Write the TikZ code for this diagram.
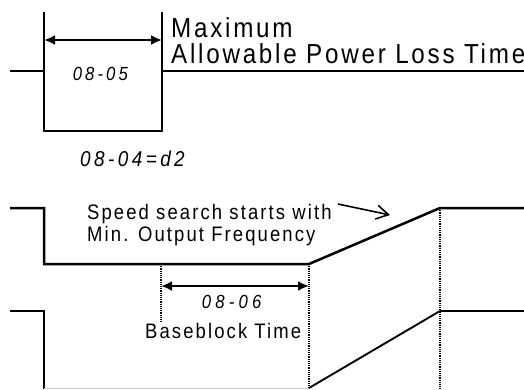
\documentclass[tikz,border=0pt]{standalone}
\usepackage{fontspec}
\setmainfont{Liberation Sans}
\newfontfamily\narrowfont{Liberation Sans}[FakeStretch=0.88, LetterSpace=10]
\newfontfamily\midnarrowfont{Liberation Sans}[FakeStretch=0.88, LetterSpace=16]
\newfontfamily\widenarrowfont{Liberation Sans}[FakeStretch=0.88, LetterSpace=22]
\usetikzlibrary{arrows.meta, positioning}

\begin{document}
\begin{tikzpicture}[
    x=1pt, y=-1pt,
    wave/.style={line width=2.5pt, line join=miter},
    thin wave/.style={line width=1.3pt},
    guide/.style={densely dotted, line width=1.2pt},
    dim/.style={{Latex[length=11pt,width=10pt]}-{Latex[length=11pt,width=10pt]}, line width=2.6pt},
    pointer/.style={-{Straight Barb[length=12pt,width=14pt]}, line width=1.6pt},
    lbl/.style={inner sep=0pt, anchor=base west, font=\narrowfont\fontsize{21}{22}\selectfont},
    big/.style={lbl, font=\narrowfont\fontsize{27.5}{28}\selectfont},
    num/.style={inner sep=0pt, anchor=base west, font=\midnarrowfont\itshape\fontsize{19}{20}\selectfont},
]
\useasboundingbox (0,0) rectangle (524,389);

% Power loss pulse
\coordinate (p0) at (10,71);
\coordinate (p1) at (44,71);
\coordinate (p1t) at (44,12);
\coordinate (p1b) at (44,131);
\coordinate (p2b) at (162,131);
\coordinate (p2t) at (162,12);
\coordinate (p2) at (162,71);
\coordinate (p3) at (524,71);
\draw[thin wave] (p0) -- (p1);
\draw[wave] (p1t) -- (p1b) -- (p2b) -- (p2t);
\draw[wave] (p2) -- (p3);
\coordinate (d1) at (44,40);
\coordinate (d2) at (162,40);
\draw[dim] (d1) -- (d2);

% Output frequency
\coordinate (f0) at (10,208);
\coordinate (f1) at (44,208);
\coordinate (f2) at (44,264);
\coordinate (f3) at (309,264);
\coordinate (f4) at (440,208);
\coordinate (f5) at (524,208);
\draw[wave] (f0) -- (f1) -- (f2) -- (f3) -- (f4) -- (f5);

% Output voltage
\coordinate (v0) at (10,311);
\coordinate (v1) at (44,311);
\coordinate (v2) at (44,389);
\coordinate (v3) at (44,388);
\coordinate (v4) at (309,388);
\coordinate (v5) at (440,311);
\coordinate (v6) at (524,311);
\draw[wave] (v0) -- (v1) -- (v2);
\draw[gray!40, line width=0.8pt] (v3) -- (v4);
\draw[line width=1.9pt] (v4) -- (v5);
\draw[wave] (v5) -- (v6);

% Guides
\coordinate (g1t) at (161,264);
\coordinate (g1b) at (161,323);
\coordinate (g2b) at (309,389);
\coordinate (g3b) at (440,389);
\draw[guide] (g1t) -- (g1b);
\draw[guide] (f3) -- (g2b);
\draw[guide] (f4) -- (g3b);
\coordinate (b1) at (161,286);
\coordinate (b2) at (309,286);
\draw[dim] (b1) -- (b2);

% Labels
\node[big] (max) at (171,37.3) {Maximum};
\node[big] (allow) at (171,63.3) {Allowable Power Loss Time};
\node[num] (t0805) at (72.7,80) {08-05};
\node[num, font=\midnarrowfont\itshape\fontsize{21.5}{22}\selectfont] (t0804) at (80,166.7) {08-04=d2};
\node[lbl] (speed) at (87,219) {Speed search starts with};
\node[lbl] (minf) at (87,241.7) {Min. Output Frequency};
\node[num, font=\widenarrowfont\itshape\fontsize{19}{20}\selectfont] (t0806) at (201.7,308.3) {08-06};
\node[lbl] (bb) at (145,338.3) {Baseblock Time};

\coordinate (s1) at (338,204);
\coordinate (s2) at (390,215);
\draw[pointer] (s1) -- (s2);

\end{tikzpicture}
\end{document}
